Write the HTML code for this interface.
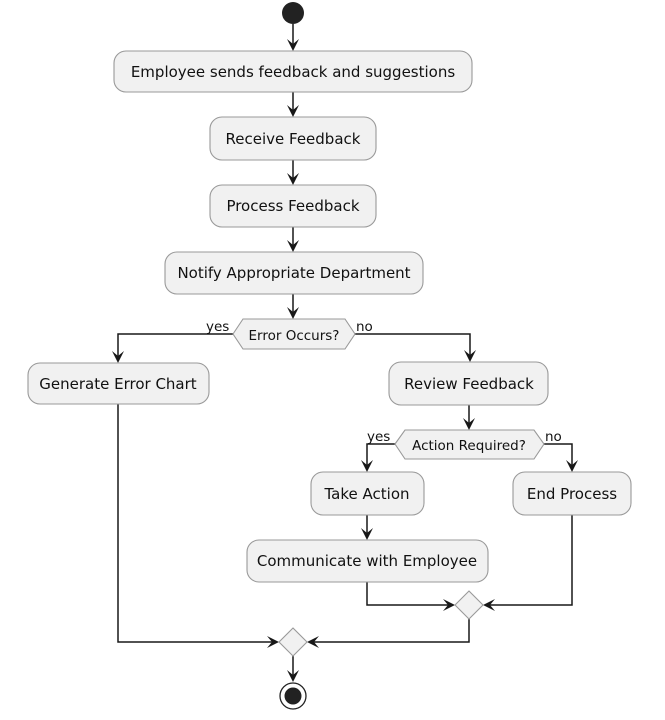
<!DOCTYPE html>
<html><head><meta charset="utf-8"><style>
html,body{margin:0;padding:0;background:#fff;}
svg{display:block;}
text{font-family:"DejaVu Sans","Liberation Sans",sans-serif;fill:#111;}
.b{fill:#F1F1F1;stroke:#999;stroke-width:1.1;}
.l{fill:none;stroke:#181818;stroke-width:1.5;}
.a{fill:#181818;}
</style></head><body>
<svg width="665" height="720" viewBox="0 0 665 720" xmlns="http://www.w3.org/2000/svg">
<defs>
<g id="ad"><polygon class="a" points="0,0 -6,-12 0,-7 6,-12"/></g>
<g id="ar"><polygon class="a" points="0,0 -12,-6 -7,0 -12,6"/></g>
<g id="al"><polygon class="a" points="0,0 12,-6 7,0 12,6"/></g>
</defs>
<circle cx="293" cy="13" r="11" fill="#222"/>
<line class="l" x1="293" y1="24" x2="293" y2="48"/><use href="#ad" x="293" y="51"/>
<line class="l" x1="293" y1="92" x2="293" y2="114"/><use href="#ad" x="293" y="117"/>
<line class="l" x1="293" y1="160" x2="293" y2="182"/><use href="#ad" x="293" y="185"/>
<line class="l" x1="293" y1="227" x2="293" y2="249"/><use href="#ad" x="293" y="252"/>
<line class="l" x1="293" y1="294" x2="293" y2="316"/><use href="#ad" x="293" y="319"/>
<polyline class="l" points="233,334 118,334 118,360"/><use href="#ad" x="118" y="363"/>
<polyline class="l" points="355,334 470,334 470,359"/><use href="#ad" x="470" y="362"/>
<line class="l" x1="469" y1="405" x2="469" y2="427"/><use href="#ad" x="469" y="430"/>
<polyline class="l" points="395,444 367,444 367,469"/><use href="#ad" x="367" y="472"/>
<polyline class="l" points="544,444 572,444 572,469"/><use href="#ad" x="572" y="472"/>
<line class="l" x1="367" y1="515" x2="367" y2="537"/><use href="#ad" x="367" y="540"/>
<polyline class="l" points="367,582 367,605 452,605"/><use href="#ar" x="455" y="605"/>
<polyline class="l" points="572,515 572,605 486,605"/><use href="#al" x="483" y="605"/>
<polyline class="l" points="118,404 118,642 276,642"/><use href="#ar" x="279" y="642"/>
<polyline class="l" points="469,619 469,642 310,642"/><use href="#al" x="307" y="642"/>
<line class="l" x1="293" y1="656" x2="293" y2="679"/><use href="#ad" x="293" y="682"/>
<rect class="b" x="114" y="51" width="358" height="41" rx="12"/>
<text x="293" y="77" font-size="15" text-anchor="middle">Employee sends feedback and suggestions</text>
<rect class="b" x="210" y="117" width="166" height="43" rx="12"/>
<text x="293" y="144" font-size="15" text-anchor="middle">Receive Feedback</text>
<rect class="b" x="210" y="185" width="166" height="42" rx="12"/>
<text x="293" y="211" font-size="15" text-anchor="middle">Process Feedback</text>
<rect class="b" x="165" y="252" width="258" height="42" rx="12"/>
<text x="294" y="278" font-size="15" text-anchor="middle">Notify Appropriate Department</text>
<polygon class="b" points="233,334 243,319 345,319 355,334 345,349 243,349"/>
<text x="294" y="340" font-size="13.5" text-anchor="middle">Error Occurs?</text>
<text x="206" y="331" font-size="13.5">yes</text>
<text x="356" y="331" font-size="13.5">no</text>
<rect class="b" x="28" y="363" width="181" height="41" rx="12"/>
<text x="118" y="389" font-size="15" text-anchor="middle">Generate Error Chart</text>
<rect class="b" x="389" y="362" width="159" height="43" rx="12"/>
<text x="469" y="389" font-size="15" text-anchor="middle">Review Feedback</text>
<polygon class="b" points="395,444 405,430 534,430 544,444 534,459 405,459"/>
<text x="469" y="450" font-size="13.5" text-anchor="middle">Action Required?</text>
<text x="367" y="441" font-size="13.5">yes</text>
<text x="545" y="441" font-size="13.5">no</text>
<rect class="b" x="311" y="472" width="113" height="43" rx="12"/>
<text x="367" y="499" font-size="15" text-anchor="middle">Take Action</text>
<rect class="b" x="513" y="472" width="118" height="43" rx="12"/>
<text x="572" y="499" font-size="15" text-anchor="middle">End Process</text>
<rect class="b" x="247" y="540" width="241" height="42" rx="12"/>
<text x="367" y="566" font-size="15" text-anchor="middle">Communicate with Employee</text>
<polygon class="b" points="469,591 483,605 469,619 455,605"/>
<polygon class="b" points="293,628 307,642 293,656 279,642"/>
<circle cx="293" cy="696" r="13" fill="#fff" stroke="#222" stroke-width="1.3"/>
<circle cx="293" cy="696" r="8.5" fill="#222"/>
</svg>
</body></html>
